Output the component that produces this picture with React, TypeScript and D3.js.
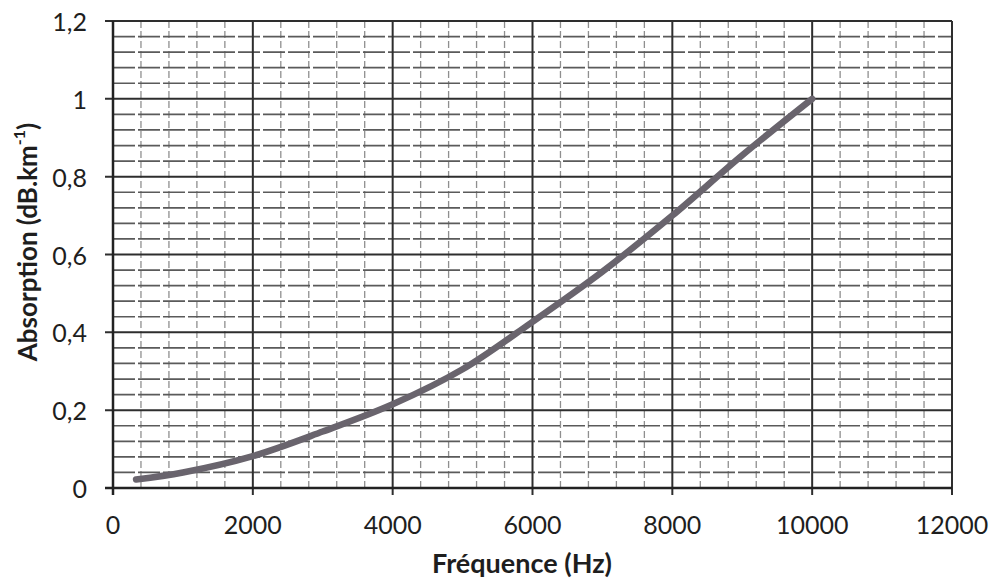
import React from "react";
import * as d3 from "d3";

const freqHz = [330, 1000, 2000, 3000, 4000, 5000, 6000, 7000, 8000, 9000, 10000];
const absorption = [0.022, 0.04, 0.082, 0.145, 0.215, 0.305, 0.427, 0.556, 0.70, 0.855, 1.0];
const xTicks = [0, 2000, 4000, 6000, 8000, 10000, 12000];
const yTicks = [0, 0.2, 0.4, 0.6, 0.8, 1, 1.2];
const yTickLabels = ["0", "0,2", "0,4", "0,6", "0,8", "1", "1,2"];

const W = 995;
const H = 582;
const M = { left: 113, right: 43, top: 21, bottom: 94 };

export default function App() {
  const x = d3.scaleLinear().domain([0, 12000]).range([M.left, W - M.right]);
  const y = d3.scaleLinear().domain([0, 1.2]).range([H - M.bottom, M.top]);

  const minorX = d3.range(0, 12001, 400).filter((v) => v % 2000 !== 0);
  const minorY = d3.range(0, 61, 2).map((v) => v / 50).filter((v, i) => (i * 2) % 10 !== 0);

  const line = d3
    .line<number>()
    .x((_, i) => x(freqHz[i]))
    .y((d) => y(d))
    .curve(d3.curveCatmullRom.alpha(0.5));

  const font = "Lato, 'Open Sans', sans-serif";

  return (
    <svg
      width={W}
      height={H}
      style={{ position: "absolute", left: 0, top: 0, background: "#fff" }}
    >
      <rect x={0} y={0} width={W} height={H} fill="#ffffff" />
      {/* minor vertical gridlines */}
      {minorX.map((v) => (
        <line
          key={"mx" + v}
          x1={x(v)}
          x2={x(v)}
          y1={y(1.2)}
          y2={y(0)}
          stroke="#8f8f8f"
          strokeWidth={1.3}
          strokeDasharray="7,3"
        />
      ))}
      {/* minor horizontal gridlines */}
      {minorY.map((v, i) => (
        <line
          key={"my" + i}
          x1={x(0)}
          x2={x(12000)}
          y1={y(v)}
          y2={y(v)}
          stroke="#5a5a5a"
          strokeWidth={1.7}
          strokeDasharray="22,3"
        />
      ))}
      {/* major gridlines */}
      {xTicks.map((v) => (
        <line
          key={"gx" + v}
          x1={x(v)}
          x2={x(v)}
          y1={y(1.2)}
          y2={y(0) + 7}
          stroke="#2e2e2e"
          strokeWidth={2}
        />
      ))}
      {yTicks.map((v) => (
        <line
          key={"gy" + v}
          x1={x(0) - 8}
          x2={x(12000)}
          y1={y(v)}
          y2={y(v)}
          stroke="#2e2e2e"
          strokeWidth={2}
        />
      ))}
      {/* axes */}
      <line x1={x(0)} x2={x(0)} y1={y(1.2)} y2={y(0) + 7} stroke="#222" strokeWidth={2.5} />
      <line x1={x(0) - 8} x2={x(12000)} y1={y(0)} y2={y(0)} stroke="#222" strokeWidth={2.5} />

      {/* curve */}
      <path
        d={line(absorption) || ""}
        fill="none"
        stroke="#69646d"
        strokeWidth={6.5}
        strokeLinecap="round"
        strokeLinejoin="round"
      />

      {/* y tick labels */}
      {yTicks.map((v, i) => (
        <text
          key={"yl" + v}
          x={87}
          y={y(v)}
          textAnchor="end"
          dominantBaseline="central"
          fontFamily={font}
          fontSize={25}
          fill="#1e1e1e"
        >
          {yTickLabels[i]}
        </text>
      ))}
      {/* x tick labels */}
      {xTicks.map((v) => (
        <text
          key={"xl" + v}
          x={x(v)}
          y={y(0) + 36}
          textAnchor="middle"
          dominantBaseline="central"
          fontFamily={font}
          fontSize={25}
          fill="#1e1e1e"
        >
          {v}
        </text>
      ))}
      {/* axis titles */}
      <text
        x={522}
        y={562}
        textAnchor="middle"
        dominantBaseline="central"
        fontFamily={font}
        fontSize={27}
        fontWeight="bold"
        fill="#1e1e1e"
      >
        Fréquence (Hz)
      </text>
      <text
        transform={`translate(27, ${242}) rotate(-90)`}
        textAnchor="middle"
        dominantBaseline="central"
        fontFamily={font}
        fontSize={26}
        fontWeight="bold"
        fill="#1e1e1e"
      >
        Absorption (dB.km
        <tspan fontSize={16} dy={-9}>-1</tspan>
        <tspan dy={9}>)</tspan>
      </text>
    </svg>
  );
}
